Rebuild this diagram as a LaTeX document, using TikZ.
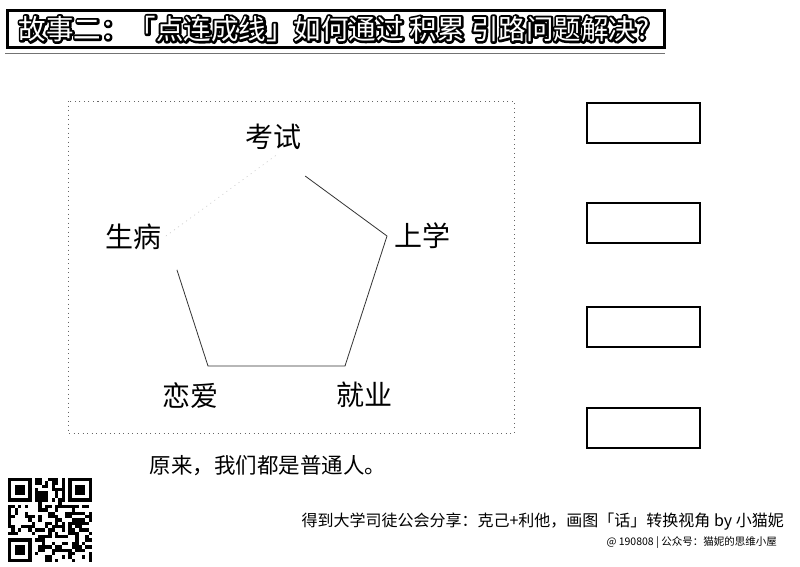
\documentclass[tikz,border=0pt]{standalone}
\usepackage{fontspec}
\setmainfont{Noto Sans CJK SC}
\usetikzlibrary{calc}
\newcommand\outlinedtitle[1]{\rlap{\color{black}\special{pdf:literal direct 0 G 2 Tr 4.5 w 1 j}#1\special{pdf:literal direct 0 Tr 1 w}}{\color{white}#1}}
\tikzset{
  lab/.style={font=\fontsize{28}{28}\selectfont, inner sep=0pt},
  edge/.style={draw=black!80, line width=0.8pt},
  faint/.style={draw=black!25, line width=0.5pt, dash pattern=on 1pt off 4pt},
  frame/.style={draw=black!60, line width=0.8pt, dash pattern=on 1pt off 3.5pt},
  sidebox/.style={draw=black, line width=1.2pt, minimum width=113pt, minimum height=40pt, inner sep=0pt},
  titlefont/.style={font=\fontsize{27.5}{27.5}\selectfont, inner sep=0pt},
}
\begin{document}
\begin{tikzpicture}[x=1pt,y=-1pt]
\useasboundingbox (0,0) rectangle (800,566);
\fill[white] (0,0) rectangle (800,566);

% title box
\draw[line width=3pt] (7,10) rectangle (664,47);
\draw[black!55, line width=1pt] (5,53) -- (665,53);
\node[titlefont] (title) at (334,29) {\outlinedtitle{故事二：「点连成线」如何通过 积累 引路问题解决?}};

% dotted frame
\draw[frame] (68,101) rectangle (514,433);

% pentagon vertices
\coordinate (top) at (276.5,155);
\coordinate (right) at (387,236);
\coordinate (br) at (345,366);
\coordinate (bl) at (208,366);
\coordinate (left) at (166,236);

\draw[edge] ($(top)!0.26!(right)$) -- (right) -- (br) -- (bl) -- ($(bl)!0.74!(left)$);
\draw[faint] (left) -- (top);

% labels
\node[lab] (kaoshi) at (273,137) {考试};
\node[lab] (shangxue) at (422,236) {上学};
\node[lab] (shengbing) at (133,237) {生病};
\node[lab] (lianai) at (190,396) {恋爱};
\node[lab] (jiuye) at (364,395) {就业};

% caption
\node[font=\fontsize{21.5}{21.5}\selectfont, inner sep=0pt] (caption) at (268,466) {原来，我们都是普通人。};

% side boxes
\node[sidebox] (b1) at (643.5,123) {};
\node[sidebox] (b2) at (643.5,223) {};
\node[sidebox] (b3) at (643.5,327) {};
\node[sidebox] (b4) at (643.5,428) {};

% credits
\node[font=\fontsize{16}{16}\selectfont, inner sep=0pt, anchor=east] (credit) at (784,522) {得到大学司徒公会分享：克己+利他，画图「话」转换视角 by 小猫妮};
\node[font=\fontsize{10.5}{10.5}\selectfont, inner sep=0pt, anchor=east] (credit2) at (777,543) {@ 190808 | 公众号：猫妮的思维小屋};

% QR code
\pgfmathsetseed{4242}
\def\m{3.36}
\foreach \i in {0,...,24}{
  \foreach \j in {0,...,24}{
    \pgfmathtruncatemacro\b{and(rnd<0.5, not(or(or(and(\i<8,\j<8),and(\i>16,\j<8)),and(\i<8,\j>16))))}
    \ifnum\b=1
      \fill[black] (8+\i*\m,478+\j*\m) rectangle ++(\m,\m);
    \fi
  }
}
\foreach \ox/\oy in {0/0,18/0,0/18}{
  \fill[black] (8+\ox*\m,478+\oy*\m) rectangle ++(7*\m,7*\m);
  \fill[white] (8+\ox*\m+\m,478+\oy*\m+\m) rectangle ++(5*\m,5*\m);
  \fill[black] (8+\ox*\m+2*\m,478+\oy*\m+2*\m) rectangle ++(3*\m,3*\m);
}
\end{tikzpicture}
\end{document}
